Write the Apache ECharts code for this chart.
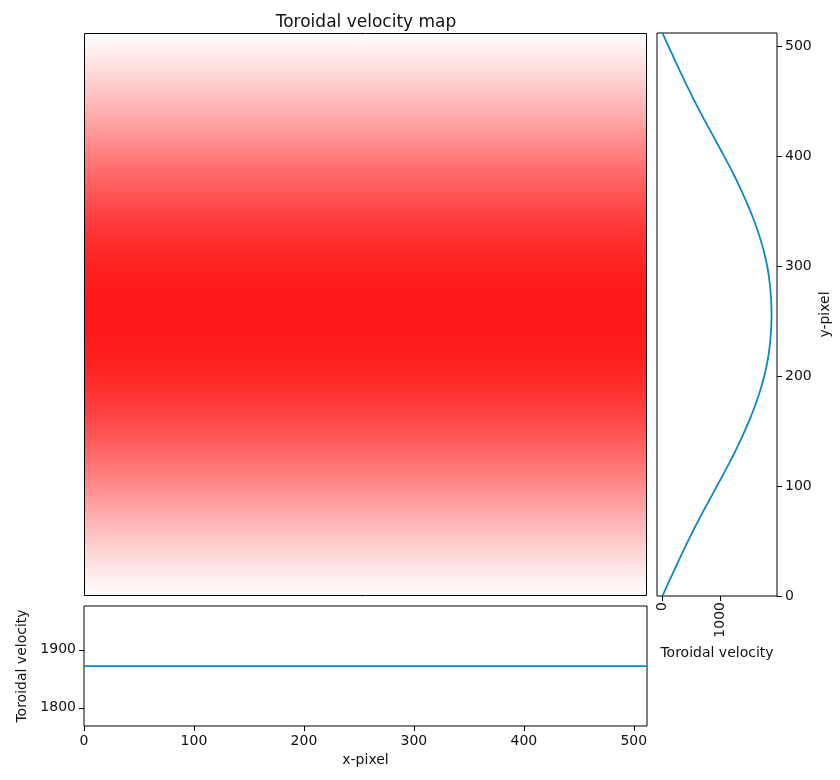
<!DOCTYPE html>
<html>
<head>
<meta charset="utf-8">
<script src="https://cdn.jsdelivr.net/npm/echarts@6/dist/echarts.min.js"></script>
<style>
html,body{margin:0;padding:0;background:#fff;}
#chart{width:840px;height:780px;}
</style>
</head>
<body>
<div id="chart"></div>
<script>
// ---- data ----
var titleText = 'Toroidal velocity map';
// y-pixel sample positions (right-hand profile)
var profileY = [0,8,16,24,32,40,48,56,64,72,80,88,96,104,112,120,128,136,144,152,160,168,176,184,192,200,208,216,224,232,240,248,256,
                264,272,280,288,296,304,312,320,328,336,344,352,360,368,376,384,392,400,408,416,424,432,440,448,456,464,472,480,488,496,504,512];
// toroidal velocity read along y
var profileV = [0,68,137,207,277,348,421,495,571,650,730,812,894,976,1058,1138,1216,1290,1361,1428,1493,1553,1609,1660,1706,1747,1782,1811,1833,1850,1861,1869,1872,
                1869,1861,1850,1833,1811,1782,1747,1706,1660,1609,1553,1493,1428,1361,1290,1216,1138,1058,976,894,812,730,650,571,495,421,348,277,207,137,68,0];
// x-pixel sample positions (bottom profile)
var profileX = [0,64,128,192,256,320,384,448,512];
var profileXV = [1872,1872,1872,1872,1872,1872,1872,1872,1872];
var xTicks = [0,100,200,300,400,500];
var yTicks = [0,100,200,300,400,500];
var velTicksRight = [0,1000];
var velTicksBottom = [1800,1900];
var vMax = 1872;

function vColor(v) {
  var t = Math.max(0, Math.min(1, v / vMax));
  var g = Math.round(255 - t * (255 - 25));
  return 'rgb(255,' + g + ',' + g + ')';
}
// one map item spanning the full y range; its gradient stops come from the profile arrays
var mapItem = [[0, 512]];
var yLo = profileY[0], yHi = profileY[profileY.length - 1];
var mapStops = [];
for (var i = profileY.length - 1; i >= 0; i--) {
  mapStops.push({offset: (yHi - profileY[i]) / (yHi - yLo), color: vColor(profileV[i])});
}

var txt = '#111';
var fontFam = 'DejaVu Sans';
var lineColor = '#0a8ac4';
var fs = 14;
function plain(v) { return String(v); }

var chart = echarts.init(document.getElementById('chart'), null, {renderer: 'canvas'});
var option = {
  animation: false,
  backgroundColor: '#fff',
  textStyle: {fontFamily: fontFam},
  title: {
    text: titleText, left: 361, top: 9, textAlign: 'center',
    textStyle: {fontFamily: fontFam, fontSize: 17, fontWeight: 'normal', color: txt}
  },
  grid: [
    {left: 84, top: 33, width: 563, height: 563},
    {left: 657, top: 33, width: 120, height: 563, show: true, borderColor: '#000', borderWidth: 1, backgroundColor: 'transparent'},
    {left: 84, top: 606, width: 563, height: 120, show: true, borderColor: '#000', borderWidth: 1, backgroundColor: 'transparent'}
  ],
  xAxis: [
    {gridIndex: 0, type: 'value', min: 0, max: 512, show: false},
    {gridIndex: 1, type: 'value', min: -93.6, max: 1965.6,
      axisLine: {show: false, onZero: false}, splitLine: {show: false},
      axisTick: {show: true, length: 5, lineStyle: {color: '#000'}, customValues: velTicksRight},
      axisLabel: {rotate: 90, fontSize: fs, color: txt, fontFamily: fontFam, margin: 6, customValues: velTicksRight, formatter: plain},
      name: 'Toroidal velocity', nameLocation: 'middle', nameGap: 50,
      nameTextStyle: {fontSize: fs, color: txt, fontFamily: fontFam}
    },
    {gridIndex: 2, type: 'value', min: 0, max: 512,
      axisLine: {show: false, onZero: false}, splitLine: {show: false},
      axisTick: {show: true, length: 5, lineStyle: {color: '#000'}, customValues: xTicks},
      axisLabel: {fontSize: fs, color: txt, fontFamily: fontFam, margin: 8, customValues: xTicks, formatter: plain},
      name: 'x-pixel', nameLocation: 'middle', nameGap: 27,
      nameTextStyle: {fontSize: fs, color: txt, fontFamily: fontFam}
    }
  ],
  yAxis: [
    {gridIndex: 0, type: 'value', min: 0, max: 512, show: false},
    {gridIndex: 1, type: 'value', position: 'right', min: 0, max: 512,
      axisLine: {show: false, onZero: false}, splitLine: {show: false},
      axisTick: {show: true, length: 5, lineStyle: {color: '#000'}, customValues: yTicks},
      axisLabel: {fontSize: fs, color: txt, fontFamily: fontFam, margin: 8, customValues: yTicks, formatter: plain},
      name: 'y-pixel', nameLocation: 'middle', nameGap: 41, nameRotate: 90,
      nameTextStyle: {fontSize: fs, color: txt, fontFamily: fontFam}
    },
    {gridIndex: 2, type: 'value', min: 1768.7, max: 1975.4,
      axisLine: {show: false, onZero: false}, splitLine: {show: false},
      axisTick: {show: true, length: 5, lineStyle: {color: '#000'}, customValues: velTicksBottom},
      axisLabel: {fontSize: fs, color: txt, fontFamily: fontFam, margin: 8, customValues: velTicksBottom, formatter: plain},
      name: 'Toroidal velocity', nameLocation: 'middle', nameGap: 44, nameRotate: 90,
      nameTextStyle: {fontSize: fs, color: txt, fontFamily: fontFam}
    }
  ],
  series: [
    {type: 'custom', xAxisIndex: 0, yAxisIndex: 0, data: mapItem, silent: true,
      encode: {y: [0, 1]},
      renderItem: function (params, api) {
        var y0 = api.value(0), y1 = api.value(1);
        var pTop = api.coord([0, y1]);
        var pBot = api.coord([512, y0]);
        return {
          type: 'rect',
          shape: {x: pTop[0], y: pTop[1], width: pBot[0] - pTop[0], height: pBot[1] - pTop[1]},
          style: {fill: new echarts.graphic.LinearGradient(0, 0, 0, 1, mapStops)}
        };
      }
    },
    {type: 'line', xAxisIndex: 1, yAxisIndex: 1, showSymbol: false, smooth: 0.3,
      lineStyle: {color: lineColor, width: 1.8},
      data: profileY.map(function (y, i) { return [profileV[i], y]; })},
    {type: 'line', xAxisIndex: 2, yAxisIndex: 2, showSymbol: false,
      lineStyle: {color: lineColor, width: 1.8},
      data: profileX.map(function (x, i) { return [x, profileXV[i]]; })}
  ],
  graphic: [
    {type: 'rect', z: 100, silent: true, shape: {x: 84.5, y: 33.5, width: 562, height: 562},
      style: {fill: 'none', stroke: '#000', lineWidth: 1}}
  ]
};
chart.setOption(option);
</script>
</body>
</html>
